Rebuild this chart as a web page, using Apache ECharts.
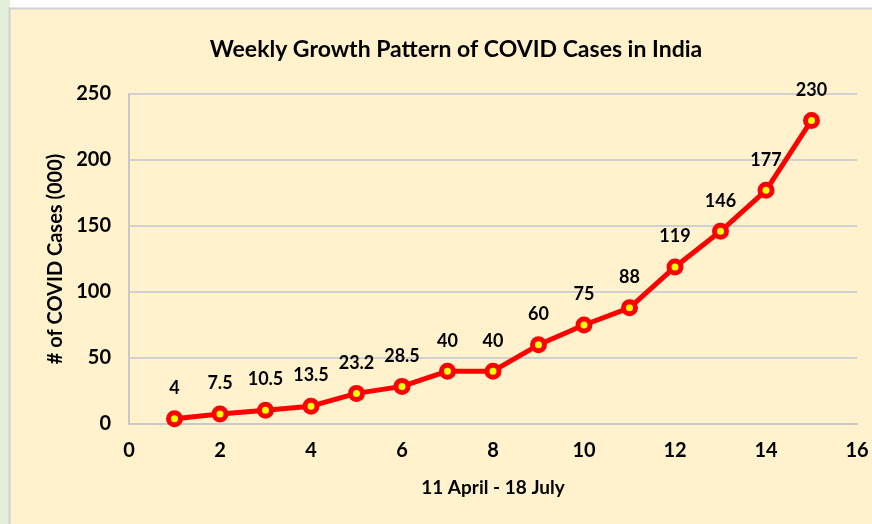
<!DOCTYPE html>
<html>
<head>
<meta charset="utf-8">
<script src="https://cdn.jsdelivr.net/npm/echarts@6/dist/echarts.min.js"></script>
<style>
  html, body { margin: 0; padding: 0; background: #fff; }
  #mainView { width: 872px; height: 524px; }
</style>
</head>
<body>
<div id="mainView"></div>
<script>
var weeks = [1, 2, 3, 4, 5, 6, 7, 8, 9, 10, 11, 12, 13, 14, 15];
var cases = [4, 7.5, 10.5, 13.5, 23.2, 28.5, 40, 40, 60, 75, 88, 119, 146, 177, 230];

var chart = echarts.init(document.getElementById('mainView'));
var points = weeks.map(function (w, i) { return [w, cases[i]]; });
var font = 'Lato, "Open Sans", sans-serif';

chart.setOption({
    backgroundColor: '#ffffff',
    graphic: [
        { type: 'rect', shape: { x: 0, y: 0, width: 10, height: 524 }, style: { fill: '#e2efda' }, z: -10 },
        { type: 'rect', shape: { x: 9.5, y: 8.5, width: 880, height: 530 }, style: { fill: '#fff2cc', stroke: '#d0d0d0', lineWidth: 2 }, z: -10 }
    ],
    title: {
        text: 'Weekly Growth Pattern of COVID Cases in India',
        left: 451,
        textAlign: 'center',
        top: 33,
        textStyle: { fontFamily: font, fontWeight: 'bold', fontSize: 23, color: '#000' }
    },
    grid: { left: 129, top: 94, right: 15, bottom: 100 },
    xAxis: {
        type: 'value',
        min: 0, max: 16, interval: 2,
        name: '11 April - 18 July',
        nameLocation: 'middle',
        nameGap: 54,
        nameTextStyle: { fontFamily: font, fontWeight: 'bold', fontSize: 19, color: '#000' },
        axisLine: { lineStyle: { color: '#c8c8c8', width: 2 } },
        axisTick: { show: false },
        splitLine: { show: false },
        axisLabel: { fontFamily: font, fontWeight: 'bold', fontSize: 20, color: '#000', margin: 17 }
    },
    yAxis: {
        type: 'value',
        min: 0, max: 250, interval: 50,
        name: '# of COVID Cases (000)',
        nameLocation: 'middle',
        nameGap: 60,
        nameRotate: 90,
        nameTextStyle: { fontFamily: font, fontWeight: 'bold', fontSize: 20, color: '#000' },
        axisLine: { show: true, lineStyle: { color: '#c8c8c8', width: 2 } },
        axisTick: { show: false },
        splitLine: { lineStyle: { color: '#d0d0d0', width: 2 } },
        axisLabel: { fontFamily: font, fontWeight: 'bold', fontSize: 20, color: '#000', margin: 18 }
    },
    series: [
        {
            type: 'line',
            data: points,
            lineStyle: { color: '#ff0000', width: 5 },
            symbol: 'circle',
            symbolSize: 12,
            itemStyle: { color: '#ffff00', borderColor: '#ff0000', borderWidth: 5 },
            label: {
                show: true,
                position: 'top',
                distance: 13,
                fontFamily: font,
                fontWeight: 'bold',
                fontSize: 18,
                color: '#000',
                formatter: function (p) { return p.value[1]; }
            }
        }
    ]
});
</script>
</body>
</html>
